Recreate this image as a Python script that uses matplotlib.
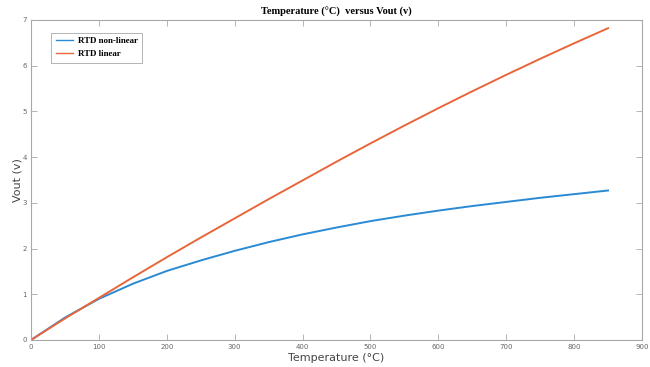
import matplotlib
matplotlib.use('Agg')
import matplotlib.pyplot as plt

# ------------------------------- data
temps = [0, 50, 100, 150, 200, 250, 300, 350, 400, 450,
         500, 550, 600, 650, 700, 750, 800, 850]
vout_nonlinear = [0, 0.49, 0.90, 1.23, 1.51, 1.74, 1.95, 2.14, 2.31, 2.46,
                  2.60, 2.72, 2.83, 2.93, 3.02, 3.11, 3.19, 3.27]
vout_linear = [0, 0.47, 0.92, 1.37, 1.81, 2.24, 2.66, 3.08, 3.49, 3.90,
               4.30, 4.69, 5.07, 5.44, 5.80, 6.15, 6.49, 6.82]
xticks = list(range(0, 1000, 100))
yticks = list(range(0, 8))

fig = plt.figure(figsize=(6.5, 3.67), dpi=100)
ax = fig.add_axes([0.0477, 0.0736, 0.94, 0.872])

ax.plot(temps, vout_nonlinear, color='#2A8AD4', lw=1.4, label='RTD non-linear')
ax.plot(temps, vout_linear, color='#E8663A', lw=1.4, label='RTD linear')

ax.set_xlim(0, 900)
ax.set_ylim(0, 7)
ax.set_xticks(xticks)
ax.set_yticks(yticks)

grey = '#a8a8a8'
for s in ax.spines.values():
    s.set_color(grey)
    s.set_linewidth(0.8)
ax.tick_params(direction='in', length=4, width=0.6, color=grey,
               labelsize=5, labelcolor='#666666', top=True, right=True, pad=3)

ax.set_title('Temperature (°C)  versus Vout (v)', family='Liberation Serif',
             fontweight='bold', fontsize=7.5, pad=4)
ax.set_xlabel('Temperature (°C)', fontsize=8, color='#444444', labelpad=2)
ax.set_ylabel('Vout (v)', fontsize=8, color='#444444', labelpad=0)

leg = ax.legend(loc='upper left', bbox_to_anchor=(0.033, 0.96), borderaxespad=0,
                prop={'family': 'Liberation Serif', 'weight': 'bold', 'size': 6.4},
                fancybox=False, framealpha=1, handlelength=2.0, handletextpad=0.5,
                borderpad=0.5, labelspacing=0.5)
leg.get_frame().set_edgecolor(grey)
leg.get_frame().set_linewidth(0.6)
for h in leg.get_lines():
    h.set_linewidth(1.0)

fig.savefig('out.png', dpi=100)
